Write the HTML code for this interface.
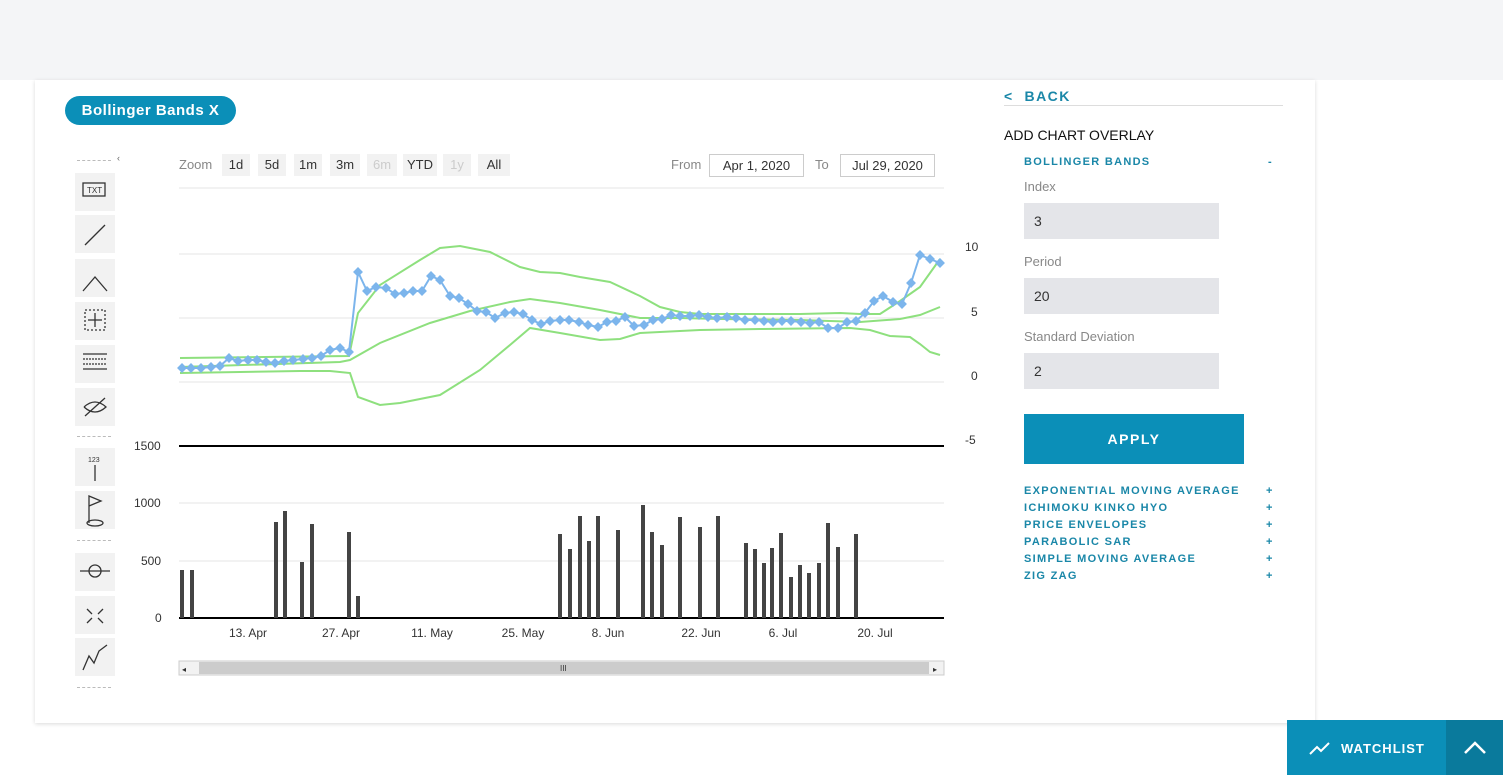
<!DOCTYPE html>
<html><head><meta charset="utf-8"><style>
body{margin:0;width:1503px;height:775px;background:#fff;font-family:"Liberation Sans",sans-serif;position:relative;overflow:hidden}
.a{position:absolute}
.hdr{left:0;top:0;width:1503px;height:80px;background:#f4f5f7}
.card{left:35px;top:80px;width:1280px;height:643px;background:#fff;box-shadow:0 1px 4px rgba(0,0,0,.15)}
.pill{left:65px;top:96px;width:171px;height:29px;border-radius:15px;background:#0b8fb8;color:#fff;font-weight:bold;font-size:15px;line-height:29px;text-align:center;letter-spacing:.5px}
.tb{left:75px;width:40px;height:38px;background:#f2f2f2}
.zb{top:154px;height:22px;line-height:22px;font-size:13px;color:#333;background:#f2f2f2;text-align:center}
.lbl{font-size:12px;color:#333}
.rp{color:#1a87a8;font-size:11px;letter-spacing:1.3px;font-weight:bold}
.inp{left:1024px;width:195px;height:36px;background:#e4e5e9;font-size:14px;line-height:36px;padding-left:10px;box-sizing:border-box;color:#333}
.gl{font-size:13px;color:#888}
</style></head><body>
<div class="a hdr"></div>
<div class="a card"></div>
<div class="a pill">Bollinger Bands X</div>
<div class="a" style="left:77px;top:160px;width:34px;border-top:1px dashed #bbb"></div>
<div class="a" style="left:117px;top:153px;font-size:9px;color:#666">‹</div>
<div class="a tb" style="top:173px"></div><div class="a tb" style="top:215px"></div><div class="a tb" style="top:259px"></div><div class="a tb" style="top:302px"></div><div class="a tb" style="top:345px"></div><div class="a tb" style="top:388px"></div>
<div class="a" style="left:77px;top:436px;width:34px;border-top:1px dashed #bbb"></div>
<div class="a tb" style="top:448px"></div><div class="a tb" style="top:491px"></div>
<div class="a" style="left:77px;top:540px;width:34px;border-top:1px dashed #bbb"></div>
<div class="a tb" style="top:553px"></div><div class="a tb" style="top:596px"></div><div class="a tb" style="top:638px"></div>
<div class="a" style="left:77px;top:687px;width:34px;border-top:1px dashed #bbb"></div>
<svg class="a" style="left:75px;top:173px" width="40" height="510" fill="none" stroke="#333" stroke-width="1.3">
<rect x="8" y="10" width="22" height="13"/><text x="12" y="20" font-size="8" fill="#333" stroke="none">TXT</text>
<line x1="10" y1="72" x2="30" y2="52"/>
<polyline points="8,118 20,104 32,118"/>
<rect x="10" y="137" width="20" height="20" stroke-dasharray="2,2"/><line x1="20" y1="140" x2="20" y2="154"/><line x1="13" y1="147" x2="27" y2="147"/>
<line x1="8" y1="181" x2="32" y2="181"/><line x1="8" y1="186" x2="32" y2="186" stroke-dasharray="2,1"/><line x1="8" y1="191" x2="32" y2="191" stroke-dasharray="2,1"/><line x1="8" y1="196" x2="32" y2="196"/>
<path d="M9 234 q11 -10 22 0 q-11 10 -22 0"/><line x1="10" y1="243" x2="30" y2="225"/>
<line x1="20" y1="292" x2="20" y2="308"/><text x="13" y="289" font-size="7" fill="#333" stroke="none">123</text>
<path d="M14 350 v-27 l12 5 l-12 5"/><ellipse cx="20" cy="350" rx="8" ry="3"/>
<circle cx="20" cy="398" r="6"/><line x1="5" y1="398" x2="35" y2="398"/>
<path d="M12 436 l5 5 M28 436 l-5 5 M12 450 l5 -5 M28 450 l-5 -5"/>
<polyline points="8,497 14,483 19,490 24,478 32,472"/>
</svg>
<div class="a gl" style="left:179px;top:157px">Zoom</div>
<div class="a zb" style="left:222px;width:28px">1d</div><div class="a zb" style="left:258px;width:28px">5d</div><div class="a zb" style="left:294px;width:28px">1m</div><div class="a zb" style="left:330px;width:30px">3m</div><div class="a zb" style="left:367px;width:30px;color:#ccc">6m</div><div class="a zb" style="left:403px;width:34px">YTD</div><div class="a zb" style="left:443px;width:28px;color:#ccc">1y</div><div class="a zb" style="left:478px;width:32px">All</div>
<div class="a gl" style="left:671px;top:157px">From</div>
<div class="a" style="left:709px;top:154px;width:93px;height:21px;border:1px solid #ccc;font-size:13px;line-height:21px;text-align:center;color:#333">Apr 1, 2020</div>
<div class="a gl" style="left:815px;top:157px">To</div>
<div class="a" style="left:840px;top:154px;width:93px;height:21px;border:1px solid #ccc;font-size:13px;line-height:21px;text-align:center;color:#333">Jul 29, 2020</div>
<svg class="a" style="left:0;top:0" width="1000" height="700">
<g stroke="#e6e6e6"><line x1="179" y1="188" x2="944" y2="188"/><line x1="179" y1="254" x2="944" y2="254"/><line x1="179" y1="318" x2="944" y2="318"/><line x1="179" y1="382" x2="944" y2="382"/><line x1="179" y1="503" x2="944" y2="503"/><line x1="179" y1="561" x2="944" y2="561"/></g>
<line x1="179" y1="446" x2="944" y2="446" stroke="#000" stroke-width="2"/>
<line x1="179" y1="618" x2="944" y2="618" stroke="#000" stroke-width="2"/>
<g font-size="12" fill="#333" font-family="Liberation Sans"><text x="965" y="251">10</text><text x="971" y="316">5</text><text x="971" y="380">0</text><text x="965" y="444">-5</text>
<text x="134" y="450">1500</text><text x="134" y="507">1000</text><text x="141" y="565">500</text><text x="155" y="622">0</text>
<g text-anchor="middle"><text x="248" y="637">13. Apr</text><text x="341" y="637">27. Apr</text><text x="432" y="637">11. May</text><text x="523" y="637">25. May</text><text x="608" y="637">8. Jun</text><text x="701" y="637">22. Jun</text><text x="783" y="637">6. Jul</text><text x="875" y="637">20. Jul</text></g></g>
<g fill="none" stroke="#8ee07e" stroke-width="2">
<polyline points="180,358 349,356 358,313 380,285 420,260 440,248 460,246 490,252 520,267 540,272 560,273 580,277 610,282 640,296 660,307 680,312 700,314 800,314 840,313 860,314 880,314 900,301 920,287 940,259"/>
<polyline points="180,367 340,362 350,360 380,343 430,323 470,311 510,302 530,299 560,303 600,310 640,318 680,318 720,319 800,320 860,322 900,319 920,315 940,307"/>
<polyline points="180,373 300,371 330,371 350,373 358,397 380,405 400,403 440,395 480,370 510,345 530,328 560,333 600,340 620,339 640,333 660,332 700,330 760,329 850,328 870,330 890,336 910,337 920,344 930,352 940,355"/>
</g>
<polyline id="p" fill="none" stroke="#7cb5ec" stroke-width="2" points="182,368 191,368 201,368 211,367 220,366 229,358 238,361 248,360 257,360 266,362 275,363 284,361 293,360 303,359 312,358 321,356 330,350 340,348 349,352 358,272 367,291 376,287 386,288 395,294 404,293 413,291 422,291 431,276 440,280 450,296 459,298 468,304 477,311 486,312 495,318 505,313 514,312 523,314 532,320 541,324 550,321 560,320 569,320 579,322 588,325 598,327 607,322 616,321 625,317 634,326 644,325 653,320 662,319 671,315 680,316 690,316 699,315 708,317 717,318 727,317 736,318 745,320 755,320 764,321 773,322 782,321 791,321 801,322 810,323 819,322 828,328 838,328 847,322 856,321 865,313 874,301 883,296 893,302 902,304 911,283 920,255 930,259 940,263"/>
<g id="m" fill="#7cb5ec"></g>
<g fill="#444" id="v"></g>
<rect x="179" y="661" width="765" height="14" fill="#f2f2f2" stroke="#ccc"/>
<rect x="199" y="662" width="730" height="12" fill="#ccc"/>
<text x="560" y="671" font-size="8" fill="#333">III</text>
<text x="182" y="672" font-size="8" fill="#333">◂</text><text x="933" y="672" font-size="8" fill="#333">▸</text>
</svg>
<div class="a" style="left:1004px;top:88px;color:#1a87a8;font-size:14px;letter-spacing:1.5px;font-weight:bold">&lt;&nbsp; BACK</div>
<div class="a" style="left:1004px;top:105px;width:279px;border-top:1px solid #ddd"></div>
<div class="a" style="left:1004px;top:127px;font-size:14px;color:#111">ADD CHART OVERLAY</div>
<div class="a rp" style="left:1024px;top:156px">BOLLINGER BANDS</div><div class="a rp" style="left:1268px;top:156px">-</div>
<div class="a gl" style="left:1024px;top:179px">Index</div>
<div class="a inp" style="top:203px">3</div>
<div class="a gl" style="left:1024px;top:254px">Period</div>
<div class="a inp" style="top:278px">20</div>
<div class="a gl" style="left:1024px;top:329px">Standard Deviation</div>
<div class="a inp" style="top:353px">2</div>
<div class="a" style="left:1024px;top:414px;width:220px;height:50px;background:#0b8fb8;color:#fff;font-weight:bold;font-size:14px;letter-spacing:1.5px;line-height:50px;text-align:center">APPLY</div>
<div class="a rp" style="left:1024px;top:483px;line-height:17px">EXPONENTIAL MOVING AVERAGE<br>ICHIMOKU KINKO HYO<br>PRICE ENVELOPES<br>PARABOLIC SAR<br>SIMPLE MOVING AVERAGE<br>ZIG ZAG</div>
<div class="a rp" style="left:1266px;top:483px;line-height:17px">+<br>+<br>+<br>+<br>+<br>+</div>
<div class="a" style="left:1287px;top:720px;width:216px;height:55px;background:#0b8fb8"></div>
<div class="a" style="left:1446px;top:720px;width:57px;height:55px;background:#0a7a9c"></div>
<div class="a" style="left:1341px;top:741px;color:#fff;font-weight:bold;font-size:13px;letter-spacing:1px">WATCHLIST</div>
<svg class="a" style="left:1308px;top:740px" width="24" height="16"><polyline points="2,14 9,7 13,11 21,3" fill="none" stroke="#fff" stroke-width="2"/></svg>
<svg class="a" style="left:1462px;top:738px" width="26" height="18"><polyline points="3,15 13,5 23,15" fill="none" stroke="#fff" stroke-width="2.5"/></svg>
<script>
var pts=document.getElementById('p').getAttribute('points').trim().split(/\s+/),m=document.getElementById('m'),s='';
pts.forEach(function(p){var a=p.split(',');s+='<rect x="'+(a[0]-3.5)+'" y="'+(a[1]-3.5)+'" width="7" height="7" transform="rotate(45 '+a[0]+' '+a[1]+')"/>';});
m.innerHTML=s;
var v=[[182,570],[192,570],[276,522],[285,511],[302,562],[312,524],[349,532],[358,596],[560,534],[570,549],[580,516],[589,541],[598,516],[618,530],[643,505],[652,532],[662,545],[680,517],[700,527],[718,516],[746,543],[755,549],[764,563],[772,548],[781,533],[791,577],[800,565],[809,573],[819,563],[828,523],[838,547],[856,534]],t='';
v.forEach(function(b){t+='<rect x="'+(b[0]-2)+'" y="'+b[1]+'" width="4" height="'+(618-b[1])+'"/>';});
document.getElementById('v').innerHTML=t;
</script>
</body></html>
